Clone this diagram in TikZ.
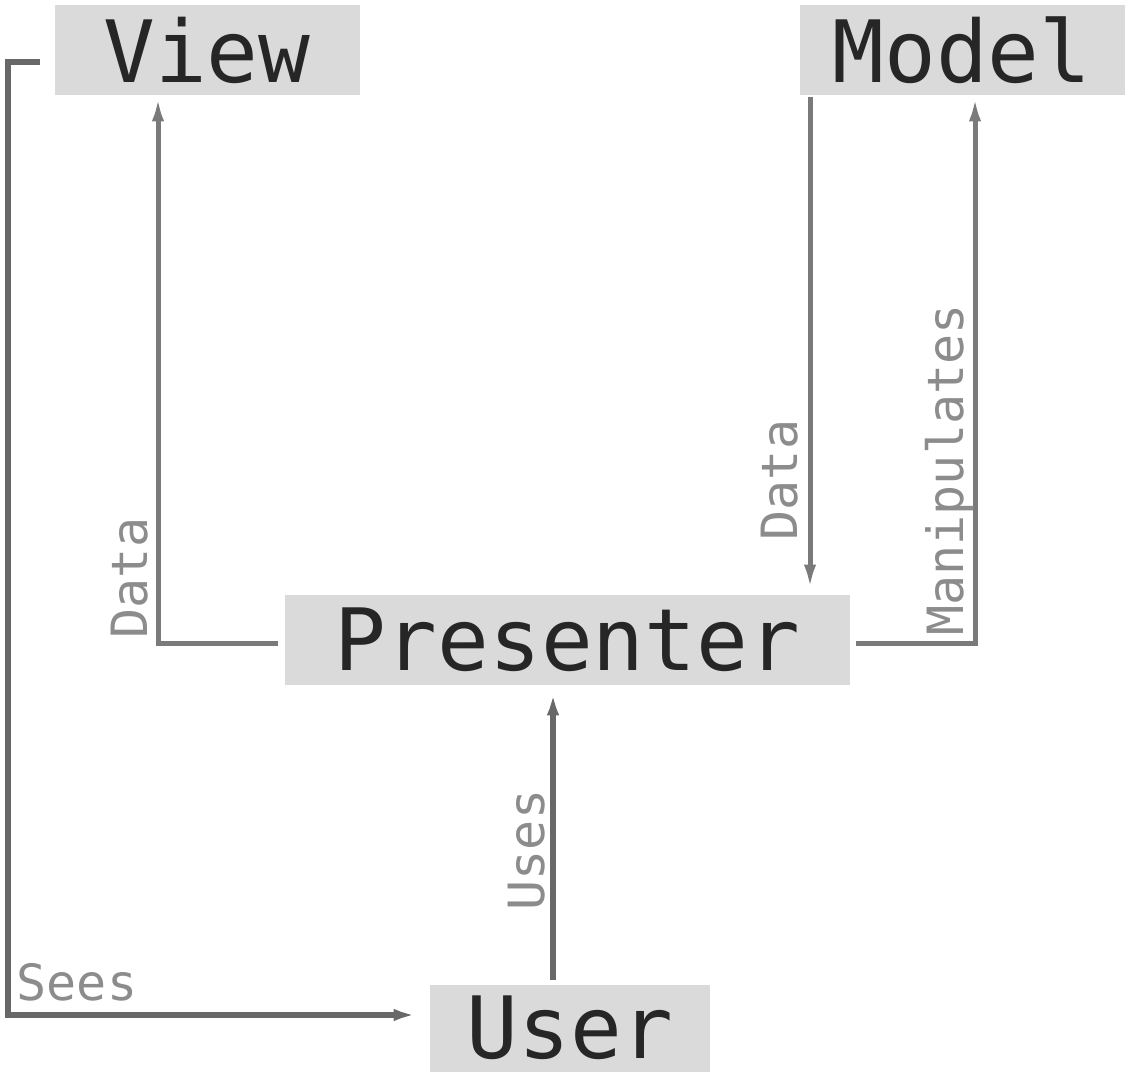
\documentclass[tikz,border=0pt]{standalone}
\usepackage{fontspec}
\setmonofont{DejaVu Sans Mono}
\usetikzlibrary{arrows.meta}
\definecolor{boxgray}{HTML}{DADADA}
\definecolor{linegray}{HTML}{7A7A7A}
\definecolor{labelgray}{HTML}{8C8C8C}
\tikzset{
  box/.style={fill=boxgray, inner sep=0pt, minimum height=45pt,
    font=\ttfamily\fontsize{43}{43}\selectfont, text=black!85},
  link/.style={draw=linegray, line width=2.5pt,
    -{Latex[length=13pt,width=6pt]}},
  lbl/.style={font=\ttfamily\fontsize{25}{25}\selectfont, text=labelgray, inner sep=0pt}
}
\begin{document}
\begin{tikzpicture}[x=0.5pt,y=-0.5pt]
		\useasboundingbox (0,0) rectangle (1127,1074);

		% boxes
		\node[box, minimum width=152.5pt] (view) at (207, 50) {View};
		\node[box, minimum width=162.5pt] (model) at (962, 50) {Model};
		\node[box, minimum width=282.5pt] (presenter) at (567, 640) {Presenter};
		\node[box, minimum width=140pt, minimum height=43.5pt] (user) at (570, 1028) {User};

		% bends
		\coordinate (vbend) at (158, 643);
		\coordinate (mdata) at (810, 0);
		\coordinate (mbend) at (975, 643);
		\coordinate (uses) at (553, 0);
		\coordinate (stop) at (8, 62);
		\coordinate (sbot) at (8, 1015);

		% connectors
		\draw[link, shorten <=3pt] (presenter.west |- vbend) -- (vbend) -- (vbend |- view.south);
		\draw[link, shorten <=1pt, shorten >=2pt] (model.south -| mdata) -- (presenter.north -| mdata);
		\draw[link, shorten <=3pt] (presenter.east |- mbend) -- (mbend) -- (mbend |- model.south);
		\draw[link, draw=linegray!85!black, line width=3pt, shorten <=2pt, shorten >=2pt] (user.north -| uses) -- (presenter.south -| uses);
		\draw[link, draw=linegray!85!black, line width=3pt, shorten <=7pt, shorten >=5pt] (view.west |- stop) -- (stop) -- (sbot) -- (user.west |- sbot);

		% labels
		\node[lbl, rotate=90] (ldata) at (130, 578) {Data};
		\node[lbl, rotate=90] (mlabel) at (780, 480) {Data};
		\node[lbl, rotate=90] (manip) at (950, 470) {Manipulates};
		\node[lbl, rotate=90] (ulabel) at (527, 850) {Uses};
		\node[lbl] (slabel) at (77, 982) {Sees};
\end{tikzpicture}
\end{document}
